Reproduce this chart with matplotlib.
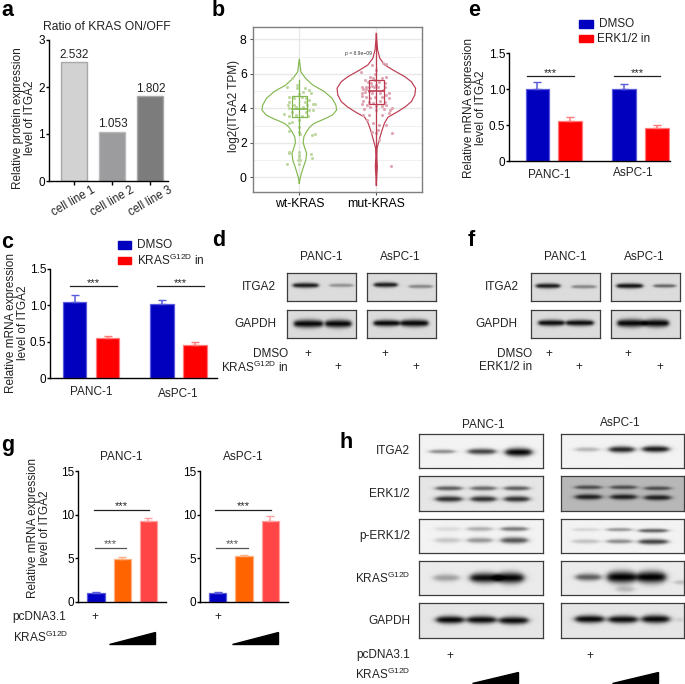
import numpy as np
import matplotlib
matplotlib.use('Agg')
import matplotlib.pyplot as plt
from matplotlib.patches import Rectangle, Polygon

plt.rcParams['font.family'] = ['Liberation Sans', 'DejaVu Sans']
plt.rcParams['mathtext.default'] = 'regular'
plt.rcParams['axes.unicode_minus'] = False

W, H = 685, 684

# a
ratio_labels = ['cell line 1', 'cell line 2', 'cell line 3']
ratio_values = [2.532, 1.053, 1.802]

# b: violin outlines (value, half width) and jitter points
wt_y = [-.35, -.06, .33, .62, 1.0, 1.39, 1.78, 2.03, 2.36, 2.65, 2.94, 3.13, 3.42, 3.61, 3.9, 4.19, 4.58, 4.97, 5.35, 5.74, 6.12, 6.51, 6.86]
wt_w = [0, .01, .035, .055, .085, .095, .065, .05, .06, .095, .14, .195, .345, .43, .485, .475, .425, .325, .175, .08, .02, .01, 0]
mut_y = [-.45, .04, .62, 1.2, 1.68, 1.97, 2.36, 2.74, 3.13, 3.48, 3.81, 4.1, 4.39, 4.77, 5.16, 5.54, 5.83, 6.22, 6.51, 6.9, 7.38, 7.96, 8.35]
mut_w = [0, .005, .013, .006, .009, .026, .05, .075, .105, .15, .28, .38, .455, .5, .51, .455, .37, .215, .11, .045, .017, .005, 0]
wt_box = [2.45, 3.48, 3.96, 4.73, 5.65]
mut_box = [-.45, 4.23, 4.98, 5.62, 8.3]
wt_off = [-.16, -.03, -.03, -.10, .05, .07, .13, .15, 0, .03, .09, .12, -.07, -.13, -.13, -.15, -.13, .07, .10, .18, .20, .13, .18, -.07, -.04, .05, .09, .11, .04, -.10, -.20, -.13, -.04, -.10, -.13, 0, 0, 0, -.13, .16, .20, .01, -.14, -.13, 0, 0, -.01, -.02, .01, .15, .16, -.16, 0]
wt_val = [5.25, 5.35, 5.16, 5.74, 4.97, 5.16, 5.06, 4.87, 4.81, 4.67, 4.62, 4.48, 4.58, 4.67, 4.38, 4.19, 4.04, 4.38, 4.19, 4.23, 4.23, 3.9, 3.9, 4.19, 4.09, 4.09, 3.8, 3.57, 3.57, 3.8, 3.65, 3.57, 3.61, 3.23, 3.13, 3.32, 2.94, 2.65, 2.68, 2.45, 2.49, 2.49, 1.45, 1.39, 1.49, 1.29, 1.2, 1.0, .98, 1.33, 1.14, .75, .75]
mut_off = [-.20, -.06, .09, .12, 0, -.02, -.08, -.15, -.04, .07, .13, -.11, -.07, .03, .11, -.19, -.14, -.17, -.13, -.06, -.03, .02, .11, .09, -.18, -.15, -.10, -.05, .05, .16, .13, -.18, -.14, -.08, -.02, .07, .16, -.17, -.10, -.04, .05, .11, -.19, -.12, 0, .07, .13, -.16, -.08, -.01, .10, .20, .16, .18, -.17, -.10, .07, -.12, -.04, .03, .13, .02, 0, -.05, .20, .19, .03, -.02, 0, -.09]
mut_val = [6.12, 6.51, 6.61, 6.55, 6.22, 5.99, 5.83, 5.64, 5.74, 5.78, 5.80, 5.54, 5.49, 5.54, 5.49, 5.22, 5.25, 5.10, 5.10, 5.29, 5.22, 5.25, 5.25, 5.06, 4.91, 4.97, 5.02, 4.87, 4.87, 4.91, 4.77, 4.71, 4.67, 4.58, 4.67, 4.67, 4.58, 4.44, 4.39, 4.33, 4.44, 4.39, 4.25, 4.19, 4.13, 4.13, 4.19, 3.94, 4.06, 3.90, 3.94, 4.02, 3.71, 3.90, 3.61, 3.61, 3.61, 3.32, 3.13, 3.03, 3.03, 2.74, 2.59, 2.65, 2.55, .66, 2.16, 5.64, 5.35, 5.22]

# c, e, g bars: [PANC-1 control, PANC-1 treated, AsPC-1 control, AsPC-1 treated]
c_values = [1.04, 0.55, 1.02, 0.45]
c_errors = [0.10, 0.03, 0.05, 0.05]
e_values = [1.0, 0.56, 1.0, 0.46]
e_errors = [0.10, 0.05, 0.07, 0.04]
g_panc_values = [1.0, 4.9, 9.3]
g_panc_errors = [0.1, 0.25, 0.3]
g_aspc_values = [1.0, 5.2, 9.25]
g_aspc_errors = [0.1, 0.15, 0.55]

# western blots, each band: lane centre, half width, row height, thickness, darkness
d_itga2_panc = [(.27, .185, .44, .07, .88), (.79, .17, .44, .05, .35)]
d_itga2_aspc = [(.27, .17, .42, .07, .88), (.78, .17, .48, .05, .4)]
d_gapdh_panc = [(.31, .21, .49, .11, .97), (.745, .19, .49, .11, .97)]
d_gapdh_aspc = [(.285, .19, .47, .09, .97), (.69, .2, .47, .1, .97)]
f_itga2_panc = [(.245, .175, .46, .07, .88), (.77, .175, .49, .05, .4)]
f_itga2_aspc = [(.27, .19, .46, .07, .92), (.78, .16, .46, .05, .55)]
f_gapdh_panc = [(.295, .19, .46, .085, .95), (.71, .2, .46, .085, .95)]
f_gapdh_aspc = [(.29, .2, .47, .11, .97), (.66, .18, .47, .11, .97)]
h_itga2_panc = [(.186, .10, .53, .045, .42), (.507, .11, .53, .065, .72), (.805, .105, .55, .09, .98)]
h_itga2_aspc = [(.21, .095, .47, .05, .25), (.49, .1, .47, .07, .85), (.765, .105, .46, .07, .9)]
h_erk_panc = [(.24, .105, .35, .05, .6), (.24, .105, .66, .065, .8), (.52, .1, .35, .05, .55), (.52, .1, .66, .065, .8), (.79, .1, .35, .05, .6), (.79, .1, .66, .065, .8)]
h_erk_aspc = [(.22, .105, .32, .045, .6), (.22, .105, .60, .06, .85), (.505, .105, .32, .045, .6), (.505, .105, .60, .06, .85), (.78, .105, .35, .045, .6), (.78, .105, .62, .06, .85)]
h_perk_panc = [(.23, .10, .31, .05, .1), (.23, .10, .64, .06, .18), (.49, .10, .31, .05, .28), (.49, .10, .64, .06, .38), (.77, .105, .31, .05, .5), (.77, .105, .64, .07, .65)]
h_perk_aspc = [(.2, .105, .33, .04, .12), (.2, .105, .67, .05, .2), (.47, .10, .33, .04, .38), (.47, .10, .67, .05, .42), (.745, .115, .36, .045, .6), (.745, .115, .68, .06, .72)]
h_kras_panc = [(.22, .10, .51, .08, .32), (.53, .115, .51, .11, .95), (.735, .11, .51, .12, .98)]
h_kras_aspc = [(.22, .10, .49, .08, .6), (.49, .115, .49, .13, 1.0), (.73, .115, .49, .13, 1.0), (.97, .05, .64, .05, .2), (.52, .07, .84, .07, .2)]
h_gapdh_panc = [(.25, .11, .48, .085, .98), (.505, .115, .48, .085, .95), (.765, .115, .5, .085, .95)]
h_gapdh_aspc = [(.23, .115, .46, .085, .97), (.5, .115, .47, .085, .95), (.765, .11, .46, .09, .97), (.96, .03, .48, .05, .12)]

fig = plt.figure(figsize=(W / 100, H / 100), dpi=100)
bg = fig.add_axes([0, 0, 1, 1], zorder=0)
bg.set_xlim(0, W)
bg.set_ylim(H, 0)
bg.axis('off')


def make_axes(left, right, top, bottom):
    return fig.add_axes([left / W, 1 - bottom / H, (right - left) / W, (bottom - top) / H], zorder=2)


def txt(x, y, s, size=8.5, ha='center', va='center', **kw):
    return bg.text(x, y, s, fontsize=size, ha=ha, va=va, **kw)


def style_axes(ax):
    ax.patch.set_alpha(0)
    ax.spines['top'].set_visible(False)
    ax.spines['right'].set_visible(False)
    ax.spines['left'].set_linewidth(1.0)
    ax.spines['bottom'].set_linewidth(1.0)
    ax.tick_params(axis='y', length=2.5, width=1.0, pad=0.3, labelsize=8.5)


def group_bars(ax, values, errors, colors, edges, width, positions):
    for p, v, e, c, ec in zip(positions, values, errors, colors, edges):
        ax.bar(p, v, width, color=c, edgecolor=ec, linewidth=0.9)
        ax.errorbar(p, v, yerr=[[0], [e]], color=ec, capsize=3, lw=1.1, capthick=1.0)


def sig(ax, x0, x1, y, color='#222222', gap=0.0):
    ax.plot([x0, x1], [y, y], color=color, lw=0.9, clip_on=False)
    ax.text((x0 + x1) / 2, y + gap, '***', fontsize=8, ha='center', va='center', color=color)


def blot(left, right, top, bottom, bands, level=0.9):
    nx, ny = int((right - left) * 2), int((bottom - top) * 2)
    xx, yy = np.meshgrid(np.linspace(0, 1, nx), np.linspace(0, 1, ny))
    dark = np.zeros_like(xx)
    for cx, hw, cy, th, d in bands:
        edge = 0.03
        across = 0.5 * (np.tanh((xx - cx + hw) / edge) - np.tanh((xx - cx - hw) / edge))
        # bands are a little thinner at their ends
        thick = 1.35 * th * (0.75 + 0.25 * np.clip(1 - ((xx - cx) / hw) ** 2, 0, 1))
        dark = dark + d * across * np.exp(-((yy - cy) / thick) ** 2)
    img = np.clip(level * (1 - dark), 0, 1)
    ax = make_axes(left, right, top, bottom)
    ax.imshow(img, cmap='gray', vmin=0, vmax=1, aspect='auto', extent=[0, 1, 1, 0], interpolation='bilinear')
    ax.set_xticks([])
    ax.set_yticks([])
    for s in ax.spines.values():
        s.set_linewidth(0.9)
        s.set_color('#3c3c3c')


# panel a
ax = make_axes(48.7, 168, 40, 181)
style_axes(ax)
pos = np.arange(3)
gray_fill = ['#D2D2D2', '#9C9C9E', '#7C7C7C']
gray_edge = ['#A9A9A9', '#B9B9B9', '#A8A8A8']
ax.bar(pos, ratio_values, 0.68, color=gray_fill, edgecolor=gray_edge, linewidth=1)
for p, v in zip(pos, ratio_values):
    ax.text(p + 0.02, v + 0.03, '%.3f' % v, fontsize=8.5, ha='center', va='bottom', color='#222222')
ax.set_xlim(-0.654, 2.47)
ax.set_ylim(0, 3)
ax.set_yticks([0, 1, 2, 3])
ax.set_xticks(pos)
ax.set_xticklabels([])
ax.tick_params(axis='x', length=3, width=1.0)
for p, lab in zip(pos, ratio_labels):
    ax.annotate(lab, (p, 0), xytext=(13, -2.5), textcoords='offset points', rotation=30, ha='right', va='top',
                rotation_mode='anchor', fontsize=8.3, color='#222222', annotation_clip=False)
txt(107, 27, 'Ratio of KRAS ON/OFF', size=8.7, color='#222222')
txt(18, 118, 'Relative protein expression', rotation=90, color='#222222')
txt(30.5, 118, 'level of ITGA2', rotation=90, color='#222222')

# panel b
ax = make_axes(253, 422, 27, 192)
ax.set_xlim(0.399, 2.593)
ax.set_ylim(-0.85, 8.71)
ax.set_axisbelow(True)
ax.set_yticks([0, 2, 4, 6, 8])
ax.set_yticks([1, 3, 5, 7], minor=True)
ax.set_xticks([1, 2])
ax.set_xticklabels(['wt-KRAS', 'mut-KRAS'])
ax.grid(which='major', color='#E9E9E9', lw=1.0)
ax.grid(which='minor', axis='y', color='#F1F1F1', lw=0.7)
ax.tick_params(which='minor', length=0)
ax.tick_params(axis='both', length=2.5, width=0.8, color='#555555', labelsize=8.8, pad=2)
for s in ax.spines.values():
    s.set_color('#7F7F7F')
    s.set_linewidth(1.0)
for center, ys, ws, box, off, val, col, ptcol in [
        (1, wt_y, wt_w, wt_box, wt_off, wt_val, '#83B84F', '#BFD8A2'),
        (2, mut_y, mut_w, mut_box, mut_off, mut_val, '#BD3B50', '#E0A5B2')]:
    ys = np.array(ys)
    ws = np.array(ws)
    ax.plot(np.r_[center - ws, (center + ws)[::-1]], np.r_[ys, ys[::-1]], color=col, lw=0.85)
    ax.scatter(center + np.array(off), val, s=5, color=ptcol, linewidths=0, zorder=3)
    ax.plot([center, center], [box[0], box[4]], color=col, lw=0.9, zorder=4)
    ax.add_patch(Rectangle((center - 0.1, box[1]), 0.2, box[3] - box[1], fill=False, ec=col, lw=0.9, zorder=4))
    ax.plot([center - 0.1, center + 0.1], [box[2], box[2]], color=col, lw=1.2, zorder=4)
ax.text(1.59, 7.2, 'p = 8.9e\u221209', fontsize=3.6, ha='left', va='center', color='#333333')
txt(234, 106, 'log2(ITGA2 TPM)', size=8.5, rotation=90, color='#222222')

# panel c
blue, red = '#0000BE', '#FF0000'
blue_e, red_e = '#5A5ADC', '#FF7A7A'
bar_pos = [0, 1, 2.65, 3.65]
ax = make_axes(50.3, 216.7, 268.7, 378.3)
style_axes(ax)
group_bars(ax, c_values, c_errors, [blue, red, blue, red], [blue_e, red_e, blue_e, red_e], 0.71, bar_pos)
ax.set_xlim(-0.74, 4.31)
ax.set_ylim(0, 1.5)
ax.set_xticks([])
ax.set_yticks([0, 0.5, 1.0, 1.5])
ax.set_yticklabels(['0', '0.5', '1.0', '1.5'])
sig(ax, -0.14, 1.28, 1.26, gap=0.05)
sig(ax, 2.5, 3.93, 1.26, gap=0.05)
txt(91, 392, 'PANC-1', color='#222222')
txt(178, 394, 'AsPC-1', color='#222222')
txt(11.5, 323, 'Relative mRNA expression', rotation=90, color='#222222')
txt(23, 323, 'level of ITGA2', rotation=90, color='#222222')
bg.add_patch(Rectangle((118, 241), 13, 8, color=blue))
bg.add_patch(Rectangle((118, 256.7), 13, 7.5, color=red))
txt(137, 245, 'DMSO', ha='left', color='#222222')
txt(137, 260, 'KRAS$^{G12D}$ in', ha='left', color='#222222')

# panel e
ax = make_axes(509, 670, 53.3, 161.3)
style_axes(ax)
group_bars(ax, e_values, e_errors, [blue, red, blue, red], [blue_e, red_e, blue_e, red_e], 0.71, bar_pos)
ax.set_xlim(-0.86, 4.05)
ax.set_ylim(0, 1.5)
ax.set_xticks([])
ax.set_yticks([0, 0.5, 1.0, 1.5])
ax.set_yticklabels(['0', '0.5', '1.0', '1.5'])
sig(ax, -0.3, 1.12, 1.18, gap=0.05)
sig(ax, 2.33, 3.75, 1.18, gap=0.05)
txt(549, 175, 'PANC-1', color='#222222')
txt(633, 173, 'AsPC-1', color='#222222')
txt(469, 108, 'Relative mRNA expression', rotation=90, color='#222222')
txt(481, 108, 'level of ITGA2', rotation=90, color='#222222')
bg.add_patch(Rectangle((579.3, 20), 13.4, 8, color=blue))
bg.add_patch(Rectangle((579.3, 34.7), 13.4, 7.6, color=red))
txt(599, 24, 'DMSO', ha='left', color='#222222')
txt(597, 39, 'ERK1/2 in', ha='left', color='#222222')

# panel g
g_fill = ['#0000C4', '#FF6400', '#FF4545']
g_edge = ['#5A5ADC', '#FFB080', '#FFA0A0']
for left, right, values, errors, title, tx in [
        (78.3, 166.3, g_panc_values, g_panc_errors, 'PANC-1', 121),
        (200, 288, g_aspc_values, g_aspc_errors, 'AsPC-1', 243.7)]:
    ax = make_axes(left, right, 471, 601.7)
    style_axes(ax)
    group_bars(ax, values, errors, g_fill, g_edge, 0.66, np.arange(3))
    ax.set_xlim(-0.676, 2.68)
    ax.set_ylim(0, 15)
    ax.set_xticks([])
    ax.set_yticks([0, 5, 10, 15])
    sig(ax, -0.09, 2.02, 10.5, gap=0.45)
    sig(ax, -0.05, 1.15, 6.2, color='#555555', gap=0.45)
    txt(tx, 457, title, color='#222222')
txt(33, 528, 'Relative mRNA expression', rotation=90, color='#222222')
txt(45, 528, 'level of ITGA2', rotation=90, color='#222222')
txt(12, 617, 'pcDNA3.1', ha='left', color='#222222')
txt(13.5, 637.5, 'KRAS$^{G12D}$', ha='left', color='#222222')
txt(95, 617, '+', color='#222222')
txt(218, 617, '+', color='#222222')
bg.add_patch(Polygon([(109, 644), (155, 644), (155, 632)], color='black'))
bg.add_patch(Polygon([(232, 644), (278.3, 644), (278.3, 632)], color='black'))

# panel d
blot(287.3, 356.3, 273.3, 301.3, d_itga2_panc, 0.86)
blot(367.3, 436, 273.3, 301.3, d_itga2_aspc, 0.86)
blot(287.3, 356.3, 309.7, 337.7, d_gapdh_panc, 0.86)
blot(367.3, 436, 309.7, 337.7, d_gapdh_aspc, 0.86)
txt(321, 256.5, 'PANC-1', color='#222222')
txt(400, 256.5, 'AsPC-1', color='#222222')
txt(276, 287, 'ITGA2', ha='right', color='#222222')
txt(276, 324, 'GAPDH', ha='right', color='#222222')
txt(288, 354, 'DMSO', ha='right', color='#222222')
txt(289, 367, 'KRAS$^{G12D}$ in', ha='right', color='#222222')
for x, y in [(308, 354), (338, 367), (384.5, 354), (416, 367)]:
    txt(x, y, '+', color='#222222')

# panel f
blot(531, 599.7, 273.3, 301.3, f_itga2_panc, 0.86)
blot(611, 679.7, 273.3, 301.3, f_itga2_aspc, 0.86)
blot(531, 599.7, 309.7, 337.7, f_gapdh_panc, 0.86)
blot(611, 679.7, 309.7, 337.7, f_gapdh_aspc, 0.86)
txt(565, 256.5, 'PANC-1', color='#222222')
txt(644, 256.5, 'AsPC-1', color='#222222')
txt(519, 287, 'ITGA2', ha='right', color='#222222')
txt(517, 324, 'GAPDH', ha='right', color='#222222')
txt(532, 354, 'DMSO', ha='right', color='#222222')
txt(532, 367, 'ERK1/2 in', ha='right', color='#222222')
for x, y in [(549, 354), (579, 367), (628, 354), (660, 367)]:
    txt(x, y, '+', color='#222222')

# panel h
rows = [(434, 468.3, 'ITGA2', h_itga2_panc, h_itga2_aspc, 0.95, 0.95),
        (476.3, 511.3, 'ERK1/2', h_erk_panc, h_erk_aspc, 0.9, 0.72),
        (518.7, 553, 'p-ERK1/2', h_perk_panc, h_perk_aspc, 0.95, 0.95),
        (560.7, 595.3, 'KRAS$^{G12D}$', h_kras_panc, h_kras_aspc, 0.92, 0.92),
        (603.3, 638.3, 'GAPDH', h_gapdh_panc, h_gapdh_aspc, 0.9, 0.9)]
for top, bottom, name, panc, aspc, lev1, lev2 in rows:
    blot(419, 542.7, top, bottom, panc, lev1)
    blot(560.7, 684, top, bottom, aspc, lev2)
    txt(410, (top + bottom) / 2, name, ha='right', color='#222222')
txt(483, 425, 'PANC-1', color='#222222')
txt(620, 423, 'AsPC-1', color='#222222')
txt(410, 655, 'pcDNA3.1', ha='right', color='#222222')
txt(410, 674, 'KRAS$^{G12D}$', ha='right', color='#222222')
txt(450, 656, '+', color='#222222')
txt(590, 656, '+', color='#222222')
bg.add_patch(Polygon([(472, 683), (518, 683), (518, 671.5)], color='black'))
bg.add_patch(Polygon([(612, 683), (658, 683), (658, 671.5)], color='black'))

# panel letters
for s, x, y in [('a', 1, 10), ('b', 212, 10), ('e', 468, 10), ('c', 1, 242), ('d', 212, 241),
                ('f', 468, 241), ('g', 1, 445), ('h', 340, 443)]:
    txt(x, y, s, size=15.5, ha='left', fontweight='bold', color='black')

fig.savefig('out.png', dpi=100)
